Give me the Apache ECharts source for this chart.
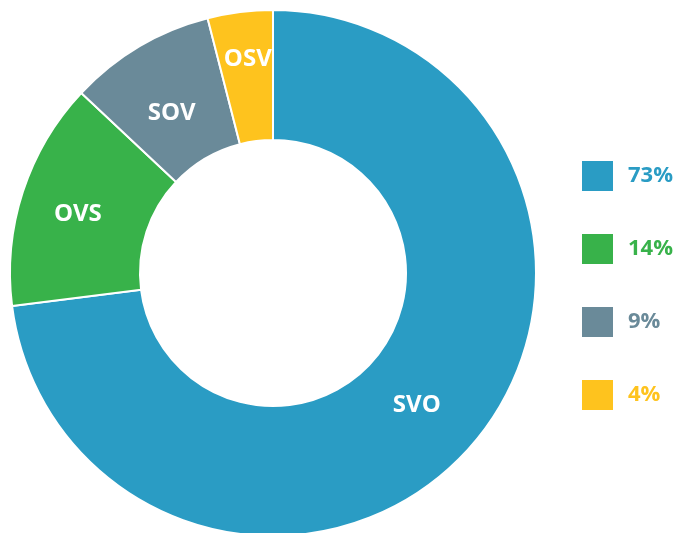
<!DOCTYPE html>
<html>
<head>
<meta charset="utf-8">
<script src="https://cdn.jsdelivr.net/npm/echarts@6/dist/echarts.min.js"></script>
<style>
  html, body { margin: 0; padding: 0; background: #fff; }
  #chart { width: 676px; height: 533px; }
</style>
</head>
<body>
<div id="chart"></div>
<script>
const categories = ['SVO', 'OVS', 'SOV', 'OSV']
const values = [73, 14, 9, 4]
const colors = ['#2a9cc4', '#38b24a', '#6a8a99', '#fec31e']

const pieData = categories.map((name, i) => ({ name: name, value: values[i] }))
const legendData = categories.map((name, i) => ({
  name: name,
  textStyle: { color: colors[i] }
}))

// small nudges so the slice labels sit where the original put them
const labelShift = [[-7, -1], [-4, 3], [1, 13], [0, -14]]

const chart = echarts.init(document.getElementById('chart'), null, { renderer: 'canvas' })
chart.setOption({
  animation: false,
  color: colors,
  legend: {
    orient: 'vertical',
    left: 577,
    top: 156,
    itemWidth: 31,
    itemHeight: 30,
    itemGap: 43,
    icon: 'rect',
    itemStyle: { borderWidth: 0 },
    formatter: name => values[categories.indexOf(name)] + '%',
    textStyle: {
      fontFamily: 'Open Sans',
      fontWeight: 'bold',
      fontSize: 22,
      padding: [0, 0, 0, 10]
    },
    data: legendData
  },
  series: [
    {
      type: 'pie',
      radius: [133, 263],
      center: [273, 273],
      startAngle: 90,
      clockwise: true,
      data: pieData,
      itemStyle: {
        borderColor: '#fff',
        borderWidth: 2
      },
      label: {
        position: 'inside',
        formatter: '{b}',
        color: '#fff',
        fontFamily: 'Open Sans',
        fontWeight: 'bold',
        fontSize: 24
      },
      labelLayout: params => ({
        dx: labelShift[params.dataIndex][0],
        dy: labelShift[params.dataIndex][1]
      }),
      labelLine: { show: false },
      emphasis: { disabled: true }
    }
  ]
})
</script>
</body>
</html>
